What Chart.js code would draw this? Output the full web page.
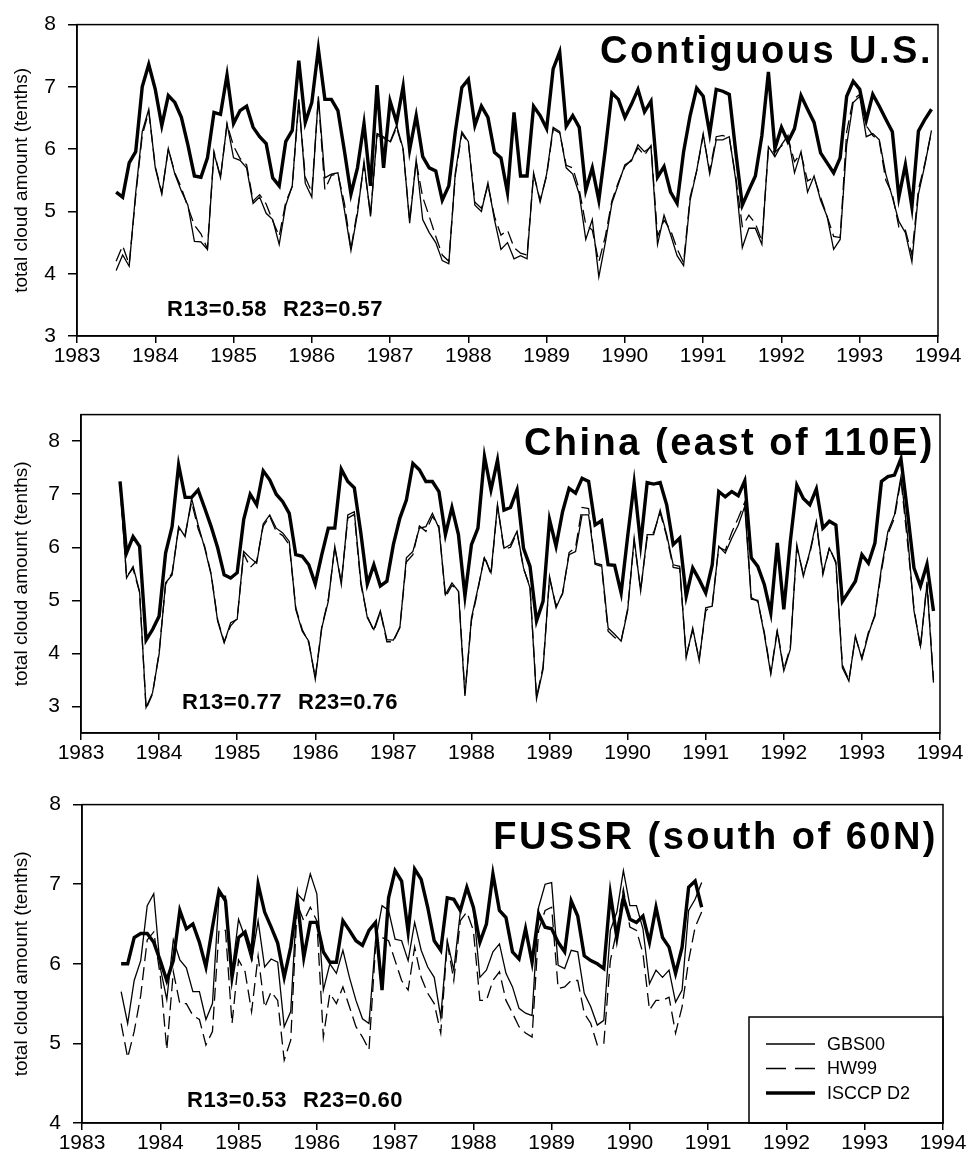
<!DOCTYPE html>
<html>
<head>
<meta charset="utf-8">
<script src="https://cdn.jsdelivr.net/npm/chart.js@4.4.1/dist/chart.umd.min.js"></script>
<style>
  body { margin: 0; background: #fff; }
  #wrap { position: relative; width: 968px; height: 1159px; }
  canvas { position: absolute; left: 0; }
</style>
</head>
<body>
<div id="wrap">
  <canvas id="c1" width="968" height="380" style="top:0px"></canvas>
  <canvas id="c2" width="968" height="380" style="top:390px"></canvas>
  <canvas id="c3" width="968" height="379" style="top:780px"></canvas>
</div>
<script>
// monthly means, first month = July 1983 (decimal year 1983.5)
const firstMonth = 1983.5;
const xYears = [1983, 1984, 1985, 1986, 1987, 1988, 1989, 1990, 1991, 1992, 1993, 1994];
const seriesNames = ['GBS00', 'HW99', 'ISCCP D2'];

// Contiguous U.S.
const usGbs = [4.05, 4.30, 4.12, 5.30, 6.28, 6.64, 5.70, 5.28, 6.01, 5.60, 5.33, 5.10, 4.52, 4.51, 4.39, 5.94, 5.54, 6.41, 5.86, 5.82, 5.70, 5.13, 5.23, 4.97, 4.87, 4.47,
  5.10, 5.41, 6.80, 5.45, 5.23, 6.85, 5.54, 5.60, 5.62, 5.02, 4.37, 4.97, 5.80, 4.92, 6.25, 6.20, 6.12, 6.38, 6.01, 4.81, 5.83, 4.87, 4.66, 4.50, 4.21, 4.16, 5.62, 6.28, 6.12, 5.10, 5.00, 5.46, 4.87,
  4.39, 4.50, 4.24, 4.29, 4.24, 5.62, 5.15, 5.60, 6.35, 6.28, 5.70, 5.60, 5.28, 4.55, 4.87, 3.95, 4.50, 5.13, 5.44, 5.75, 5.81, 6.07, 5.96, 6.04, 4.47, 4.94, 4.63, 4.29, 4.13, 5.18, 5.65, 6.25, 5.60, 6.15,
  6.15, 6.20, 5.50, 4.42, 4.73, 4.73, 4.47, 6.04, 5.88, 6.07, 6.22, 5.62, 5.96, 5.31, 5.57, 5.18, 4.92, 4.39, 4.55, 6.07, 6.75, 6.85, 6.20, 6.25, 6.15, 5.60, 5.23, 4.84, 4.66, 4.19, 5.28, 5.75, 6.30];
const usHw = [4.20, 4.45, 4.15, 5.25, 6.22, 6.60, 5.72, 5.30, 6.00, 5.62, 5.38, 5.07, 4.78, 4.64, 4.40, 5.96, 5.55, 6.40, 6.05, 5.85, 5.75, 5.17, 5.27, 5.12, 4.85, 4.60,
  5.15, 5.40, 6.75, 5.55, 5.31, 6.82, 5.35, 5.58, 5.60, 5.13, 4.40, 5.02, 5.75, 4.95, 6.22, 6.18, 6.10, 6.35, 5.98, 4.85, 5.80, 5.23, 4.92, 4.60, 4.30, 4.20, 5.58, 6.25, 6.10, 5.15, 5.05, 5.42, 4.92,
  4.62, 4.70, 4.42, 4.33, 4.30, 5.60, 5.18, 5.57, 6.32, 6.26, 5.74, 5.70, 5.35, 4.79, 4.70, 4.19, 4.60, 5.17, 5.47, 5.72, 5.83, 6.02, 5.90, 6.06, 4.60, 4.86, 4.70, 4.40, 4.18, 5.23, 5.65, 6.22, 5.65, 6.20,
  6.22, 6.18, 5.55, 4.76, 4.94, 4.81, 4.52, 6.00, 5.95, 6.05, 6.18, 5.80, 5.93, 5.49, 5.55, 5.23, 4.92, 4.60, 4.58, 6.28, 6.80, 6.88, 6.38, 6.22, 6.13, 5.50, 5.28, 4.75, 4.70, 4.30, 5.35, 5.78, 6.28];
const usIsccp = [5.31, 5.23, 5.78, 5.96, 7.00, 7.36, 6.96, 6.38, 6.86, 6.75, 6.51, 6.07, 5.57, 5.55, 5.86, 6.59, 6.56, 7.19, 6.41, 6.62, 6.69, 6.35, 6.20, 6.09, 5.54, 5.41,
  6.12, 6.30, 7.42, 6.43, 6.75, 7.61, 6.80, 6.80, 6.62, 5.97, 5.28, 5.70, 6.41, 5.41, 7.03, 5.70, 6.77, 6.43, 7.01, 5.99, 6.54, 5.88, 5.70, 5.65, 5.18, 5.41, 6.28, 6.99, 7.12, 6.38, 6.69, 6.51, 5.95,
  5.86, 5.30, 6.59, 5.57, 5.57, 6.69, 6.54, 6.33, 7.29, 7.56, 6.37, 6.54, 6.35, 5.34, 5.70, 5.18, 6.00, 6.90, 6.80, 6.51, 6.72, 6.96, 6.60, 6.77, 5.55, 5.72, 5.31, 5.13, 5.96, 6.54, 6.98, 6.85, 6.25, 6.96,
  6.93, 6.88, 5.95, 5.10, 5.34, 5.57, 6.22, 7.24, 6.01, 6.35, 6.12, 6.33, 6.86, 6.64, 6.43, 5.94, 5.78, 5.62, 5.86, 6.85, 7.09, 6.96, 6.46, 6.88, 6.69, 6.48, 6.28, 5.23, 5.75, 5.07, 6.29, 6.48, 6.64];

// China (east of 110E)
const cnGbs = [7.20, 5.42, 5.64, 5.17, 2.98, 3.26, 3.98, 5.33, 5.48, 6.39, 6.20, 6.92, 6.42, 5.99, 5.48, 4.61, 4.20, 4.58, 4.64, 5.92, 5.80, 5.70, 6.44, 6.61, 6.36,
  6.27, 6.11, 4.83, 4.42, 4.23, 3.51, 4.48, 4.98, 6.02, 5.30, 6.61, 6.67, 5.36, 4.67, 4.45, 4.80, 4.26, 4.25, 4.48, 5.80, 5.92, 6.36, 6.39, 6.64, 6.36, 5.11, 5.33, 5.17, 3.20, 4.67, 5.23, 5.80, 5.52, 6.80,
  5.98, 6.05, 6.30, 5.61, 5.23, 3.14, 3.70, 5.45, 4.86, 5.14, 5.86, 5.92, 6.61, 6.61, 5.70, 5.67, 4.48, 4.36, 4.23, 4.80, 6.17, 5.17, 6.24, 6.24, 6.70, 6.24, 5.67, 5.64, 3.92, 4.48, 3.86, 4.86, 4.89, 6.02,
  5.89, 6.17, 6.42, 6.77, 5.02, 5.00, 4.36, 3.61, 4.42, 3.67, 4.08, 6.05, 5.45, 5.92, 6.49, 5.52, 5.98, 5.73, 3.73, 3.48, 4.33, 3.89, 4.36, 4.73, 5.61, 6.30, 6.61, 7.33, 6.24, 4.80, 4.14, 5.30, 3.45];
const cnHw = [7.18, 5.45, 5.60, 5.15, 2.95, 3.24, 4.02, 5.30, 5.52, 6.35, 6.24, 6.85, 6.35, 6.02, 5.50, 4.63, 4.22, 4.52, 4.66, 5.88, 5.62, 5.74, 6.40, 6.58, 6.30,
  6.22, 6.05, 4.86, 4.45, 4.20, 3.55, 4.50, 5.02, 6.00, 5.34, 6.55, 6.62, 5.30, 4.70, 4.42, 4.78, 4.22, 4.22, 4.50, 5.72, 5.86, 6.40, 6.30, 6.58, 6.40, 5.06, 5.28, 5.20, 3.24, 4.62, 5.20, 5.84, 5.48, 6.78,
  5.96, 6.00, 6.28, 5.60, 5.26, 3.18, 3.74, 5.42, 4.90, 5.12, 5.90, 6.00, 6.75, 6.73, 5.68, 5.64, 4.42, 4.30, 4.24, 4.84, 6.12, 5.20, 6.18, 6.28, 6.65, 6.20, 5.62, 5.60, 3.96, 4.44, 3.90, 4.80, 4.92, 6.00,
  5.94, 6.28, 6.55, 6.85, 5.05, 4.98, 4.40, 3.64, 4.45, 3.70, 4.12, 6.00, 5.50, 5.88, 6.45, 5.48, 6.00, 5.70, 3.78, 3.50, 4.30, 3.92, 4.40, 4.70, 5.55, 6.25, 6.55, 7.28, 6.10, 4.85, 4.10, 5.35, 3.50];
const cnIsccp = [7.24, 5.89, 6.20, 6.02, 4.25, 4.45, 4.70, 5.89, 6.39, 7.55, 6.94, 6.94, 7.08, 6.74, 6.39, 5.99, 5.48, 5.42, 5.52, 6.52, 7.00, 6.80, 7.44, 7.27, 7.00,
  6.86, 6.64, 5.86, 5.83, 5.67, 5.31, 5.86, 6.36, 6.36, 7.47, 7.24, 7.12, 6.27, 5.31, 5.67, 5.27, 5.36, 6.05, 6.55, 6.89, 7.58, 7.46, 7.24, 7.24, 7.05, 6.24, 6.75, 6.24, 5.08, 6.05, 6.36, 7.71, 7.08, 7.64,
  6.70, 6.75, 7.08, 5.98, 5.64, 4.61, 4.98, 6.52, 6.02, 6.67, 7.11, 7.02, 7.30, 7.24, 6.42, 6.50, 5.67, 5.66, 5.14, 6.20, 7.21, 6.06, 7.22, 7.19, 7.22, 6.80, 6.05, 6.17, 5.08, 5.61, 5.39, 5.14, 5.67, 7.05,
  6.95, 7.05, 6.97, 7.25, 5.80, 5.64, 5.30, 4.76, 6.08, 4.83, 6.11, 7.17, 6.92, 6.80, 7.10, 6.36, 6.49, 6.42, 4.98, 5.17, 5.36, 5.86, 5.70, 6.08, 7.24, 7.33, 7.36, 7.67, 6.67, 5.61, 5.27, 5.68, 4.80];

// FUSSR (south of 60N), ends December 1990
const fsGbs = [5.65, 5.25, 5.79, 6.04, 6.73, 6.88, 5.95, 5.55, 6.30, 6.05, 5.95, 5.65, 5.65, 5.30, 5.50, 6.85, 6.85, 5.90, 6.56, 6.33, 6.04, 6.54, 5.96, 6.06, 6.02,
  5.21, 5.40, 6.88, 6.79, 7.13, 6.88, 5.67, 6.00, 5.88, 6.17, 5.83, 5.54, 5.31, 5.25, 6.29, 6.73, 6.67, 6.31, 6.29, 6.04, 6.52, 6.17, 5.96, 5.83, 5.33, 6.29, 5.92, 6.65, 6.96, 6.71, 5.83, 5.92, 6.15, 6.25,
  5.88, 5.71, 5.44, 5.38, 5.35, 6.71, 7.00, 7.02, 5.98, 5.94, 6.17, 6.15, 5.63, 5.46, 5.23, 5.29, 6.42, 6.65, 7.17, 6.73, 6.73, 6.44, 5.75, 5.92, 5.83, 5.92, 5.52, 5.67, 6.67, 6.81, 7.02];
const fsHw = [5.25, 4.82, 5.15, 5.60, 6.30, 6.40, 5.85, 4.92, 5.90, 5.50, 5.50, 5.35, 5.30, 4.98, 5.15, 6.42, 6.42, 5.25, 6.05, 5.90, 5.40, 6.10, 5.45, 5.65, 5.54,
  4.79, 5.04, 6.75, 6.54, 6.71, 6.54, 5.08, 5.63, 5.50, 5.71, 5.46, 5.21, 5.08, 4.92, 6.21, 6.33, 6.29, 6.04, 5.79, 5.67, 6.21, 5.83, 5.63, 5.50, 5.13, 6.27, 5.79, 6.54, 6.65, 6.42, 5.54, 5.54, 5.79, 5.90,
  5.54, 5.38, 5.21, 5.13, 5.08, 6.42, 6.67, 6.71, 5.69, 5.71, 5.79, 5.79, 5.38, 5.25, 4.98, 5.00, 6.04, 6.42, 6.94, 6.46, 6.42, 6.13, 5.42, 5.54, 5.54, 5.58, 5.13, 5.46, 6.04, 6.46, 6.65];
const fsIsccp = [6.00, 6.00, 6.33, 6.38, 6.38, 6.27, 6.04, 5.79, 6.04, 6.67, 6.44, 6.50, 6.27, 5.96, 6.46, 6.92, 6.79, 5.83, 6.33, 6.40, 6.13, 7.00, 6.65, 6.46, 6.26,
  5.83, 6.21, 6.81, 6.08, 6.52, 6.52, 6.15, 6.02, 6.02, 6.54, 6.42, 6.29, 6.23, 6.42, 6.52, 5.67, 6.83, 7.17, 7.04, 6.40, 7.19, 7.06, 6.71, 6.29, 6.17, 6.83, 6.81, 6.67, 6.96, 6.71, 6.27, 6.50, 7.13, 6.67,
  6.58, 6.15, 6.06, 6.44, 6.02, 6.63, 6.46, 6.44, 6.27, 6.15, 6.79, 6.60, 6.10, 6.04, 6.00, 5.94, 6.88, 6.33, 6.83, 6.56, 6.52, 6.60, 6.27, 6.71, 6.33, 6.21, 5.88, 6.21, 6.96, 7.04, 6.71];

const usTicks = [3, 4, 5, 6, 7, 8];
const cnTicks = [3, 4, 5, 6, 7, 8];
const fsTicks = [4, 5, 6, 7, 8];

const FONT = '"Liberation Sans", Arial, Helvetica, sans-serif';

const toPoints = arr => arr.map((v, i) => ({ x: firstMonth + i / 12, y: v }));

// frame, region title, correlation text and (optionally) the legend box
const decor = {
  id: 'decor',
  afterDraw(chart, args, o) {
    const { ctx, chartArea: a } = chart;
    ctx.save();
    ctx.strokeStyle = '#000';
    ctx.lineWidth = 1.5;
    ctx.strokeRect(a.left, a.top, a.right - a.left, a.bottom - a.top);

    ctx.fillStyle = '#000';
    ctx.textBaseline = 'alphabetic';
    ctx.font = 'bold 38px ' + FONT;
    ctx.letterSpacing = '2.5px';
    ctx.textAlign = 'right';
    ctx.fillText(o.title, a.right - 5, a.top + o.titleDy);

    ctx.font = 'bold 22px ' + FONT;
    ctx.letterSpacing = '0.5px';
    ctx.textAlign = 'left';
    ctx.fillText(o.r13, a.left + o.rx[0], a.top + o.rDy);
    ctx.fillText(o.r23, a.left + o.rx[1], a.top + o.rDy);
    ctx.letterSpacing = '0px';

    if (o.legend) {
      const lx = o.legend.left, ly = o.legend.top;
      ctx.lineWidth = 1.5;
      ctx.strokeRect(lx, ly, a.right - lx, a.bottom - ly);
      ctx.font = '18px ' + FONT;
      ctx.textBaseline = 'middle';
      chart.data.datasets.forEach((ds, k) => {
        const y = ly + 27 + k * 24.5;
        ctx.beginPath();
        ctx.lineWidth = ds.borderWidth;
        ctx.setLineDash(ds.borderDash.length ? [20, 9] : []);
        ctx.moveTo(lx + 17, y);
        ctx.lineTo(lx + 66, y);
        ctx.stroke();
        ctx.setLineDash([]);
        ctx.fillText(ds.label, lx + 78, y + 1);
      });
    }
    ctx.restore();
  }
};

function makePanel(id, p) {
  const styles = [
    { width: 1.3, dash: [] },
    { width: 1.3, dash: [13, 6] },
    { width: 3.4, dash: [] }
  ];
  const sets = [p.gbs, p.hw, p.isccp];
  const H = document.getElementById(id).height;
  return new Chart(document.getElementById(id), {
    type: 'line',
    data: {
      datasets: sets.map((d, k) => ({
        label: seriesNames[k],
        data: toPoints(d),
        borderColor: '#000',
        borderWidth: styles[k].width,
        borderDash: styles[k].dash,
        pointRadius: 0,
        tension: 0,
        fill: false
      }))
    },
    options: {
      responsive: false,
      animation: false,
      events: [],
      layout: { padding: { top: p.top, right: 968 - p.right, left: 0, bottom: 0 } },
      scales: {
        x: {
          type: 'linear', min: 1983, max: 1994,
          afterBuildTicks: s => { s.ticks = xYears.map(v => ({ value: v })); },
          afterFit: s => { s.height = H - p.bottom; },
          ticks: { callback: v => String(v), color: '#000', font: { family: FONT, size: 21 }, padding: 1, maxRotation: 0, autoSkip: false },
          grid: { display: true, drawOnChartArea: false, drawTicks: true, tickLength: 7, color: '#000', lineWidth: 1.5 },
          border: { display: true, color: '#000', width: 1.5 }
        },
        y: {
          min: p.ymin, max: p.ymax,
          afterBuildTicks: s => { s.ticks = p.ticks.map(v => ({ value: v })); },
          afterFit: s => { s.width = p.left; },
          ticks: { color: '#000', font: { family: FONT, size: 21 }, padding: 12 },
          grid: { display: true, drawOnChartArea: false, drawTicks: true, tickLength: 9, color: '#000', lineWidth: 1.5 },
          border: { display: true, color: '#000', width: 1.5 },
          title: { display: true, text: 'total cloud amount (tenths)', color: '#000', font: { family: FONT, size: 19 }, padding: { top: 10, bottom: 0 } }
        }
      },
      plugins: {
        legend: { display: false },
        tooltip: { enabled: false },
        decor: p.decor
      }
    },
    plugins: [decor]
  });
}

makePanel('c1', {
  gbs: usGbs, hw: usHw, isccp: usIsccp, ticks: usTicks, ymin: 3, ymax: 8,
  left: 77, right: 938, top: 17, bottom: 336,
  decor: { title: 'Contiguous U.S.', titleDy: 38, r13: 'R13=0.58', r23: 'R23=0.57', rx: [90, 206], rDy: 291 }
});
makePanel('c2', {
  gbs: cnGbs, hw: cnHw, isccp: cnIsccp, ticks: cnTicks, ymin: 2.5, ymax: 8.5,
  left: 81, right: 940, top: 23, bottom: 343,
  decor: { title: 'China (east of 110E)', titleDy: 40, r13: 'R13=0.77', r23: 'R23=0.76', rx: [101, 217], rDy: 294 }
});
makePanel('c3', {
  gbs: fsGbs, hw: fsHw, isccp: fsIsccp, ticks: fsTicks, ymin: 4, ymax: 8,
  left: 82, right: 943, top: 23, bottom: 343,
  decor: { title: 'FUSSR (south of 60N)', titleDy: 44, r13: 'R13=0.53', r23: 'R23=0.60', rx: [105, 221], rDy: 302, legend: { left: 749, top: 237 } }
});
</script>
</body>
</html>
